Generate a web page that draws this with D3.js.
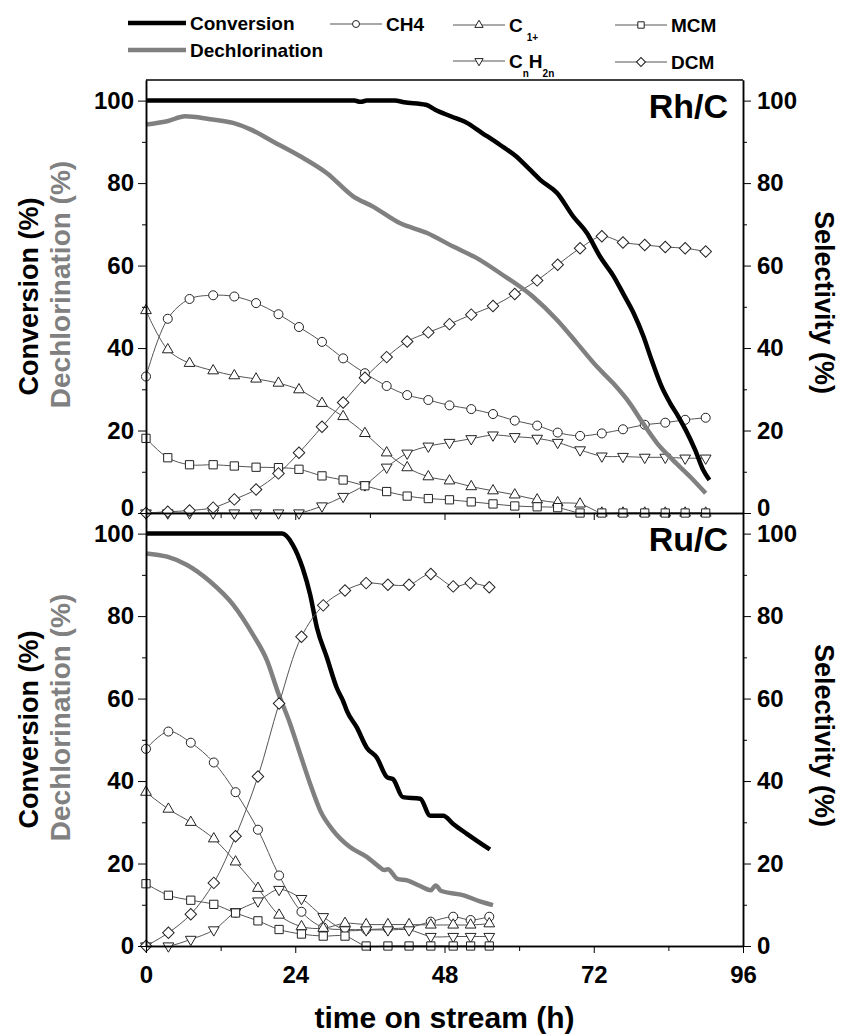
<!DOCTYPE html>
<html>
<head>
<meta charset="utf-8">
<script src="https://cdn.jsdelivr.net/npm/d3@7"></script>
<style>
  body { margin: 0; background: #fff; }
  text { font-family: "Liberation Sans", Arial, sans-serif; font-weight: bold; }
</style>
</head>
<body>
<svg id="chart" width="848" height="1036"></svg>
<script>
// ---- Rh/C panel ----
let rhTime = [0, 3.5, 7, 10.8, 14.2, 17.7, 21.3, 24.6, 28.3, 31.7, 35.2, 38.7, 42, 45.4, 48.8, 52.3, 55.8, 59.3, 62.9, 66.2, 69.8, 73.3, 76.7, 80.2, 83.5, 86.7, 90];
let rhCH4 = [33.1, 47.1, 51.9, 52.8, 52.5, 50.9, 48.2, 45.1, 41.5, 37.5, 33.9, 30.8, 28.6, 27.4, 26.1, 25.2, 24.0, 22.4, 21.2, 19.5, 18.7, 19.3, 20.3, 21.4, 21.9, 22.6, 23.1];
let rhC1 = [49.1, 39.6, 36.3, 34.5, 33.3, 32.5, 31.5, 29.9, 26.6, 23.4, 19.3, 14.6, 11.0, 8.8, 7.8, 6.4, 5.4, 4.4, 3.2, 2.5, 2.2, 0, 0, 0, 0, 0, 0];
let rhMCM = [18.1, 13.4, 11.7, 11.7, 11.4, 11.1, 11.0, 10.6, 9.0, 8.0, 6.6, 5.2, 4.1, 3.5, 3.2, 2.7, 2.2, 1.7, 1.5, 1.3, 0, 0, 0, 0, 0, 0, 0];
let rhCnH2n = [0, 0, 0, 0, 0, 0, 0, 0, 1.7, 4.0, 6.8, 11.1, 14.5, 16.2, 17.1, 18.0, 18.9, 18.5, 18.1, 17.1, 15.3, 13.8, 13.7, 13.5, 13.5, 13.3, 13.3];
let rhDCM = [0, 0.3, 0.6, 1.3, 3.3, 5.7, 9.6, 14.6, 20.9, 26.8, 32.8, 37.8, 41.6, 43.8, 45.8, 48.1, 50.2, 53.1, 56.4, 60.2, 64.2, 67.1, 65.6, 65.0, 64.5, 64.2, 63.4];

let rhConvTime = [0, 20, 33.5, 34.5, 35.5, 40, 41.5, 45, 46.5, 49, 51.6, 54, 56.9, 59.5, 61.7, 63.4, 66.1, 68.7, 70.9, 73.0, 75.2, 76.8, 78.4, 80.0, 81.3, 82.9, 84.3, 85.6, 86.8, 88.3, 89.6, 90.6];
let rhConv = [100, 100, 100, 99.7, 100, 100, 99.6, 99.0, 97.8, 96.2, 94.6, 92.2, 89.3, 86.5, 83.3, 80.8, 77.6, 71.9, 67.9, 62.2, 57.4, 53.0, 48.5, 42.8, 37.1, 30.7, 26.6, 23.4, 20.1, 15.3, 10.4, 8.0];
let rhDechTime = [0, 3.4, 6.3, 10.3, 14.0, 16.7, 20.4, 24.8, 29.1, 33.3, 36.5, 40.8, 45.2, 49.4, 53.2, 56.9, 62.2, 66.1, 69.3, 72.5, 75.1, 77.8, 79.9, 82.2, 84.7, 87.5, 90.0];
let rhDech = [94.2, 95.0, 96.2, 95.5, 94.6, 93.1, 90.1, 86.5, 82.4, 76.8, 74.3, 70.3, 67.9, 64.6, 61.8, 58.2, 52.5, 46.8, 41.2, 35.5, 31.5, 26.6, 21.8, 16.9, 12.9, 8.8, 4.8];

// ---- Ru/C panel ----
let ruTime = [0, 3.6, 7.2, 10.9, 14.4, 18, 21.4, 25, 28.5, 32, 35.4, 38.9, 42.3, 45.8, 49.4, 52.2, 55.2];
let ruCH4 = [47.8, 52.0, 49.3, 44.5, 37.3, 28.2, 17.1, 8.3, 4.5, 4.0, 4.0, 4.2, 4.5, 5.9, 7.1, 6.3, 7.1];
let ruC1 = [37.3, 33.2, 30.0, 26.0, 20.4, 14.0, 7.5, 4.7, 4.3, 5.5, 5.2, 5.2, 5.2, 5.1, 5.1, 5.1, 5.4];
let ruMCM = [15.1, 12.3, 11.1, 10.1, 8.0, 6.1, 4.0, 2.9, 2.4, 2.4, 0, 0, 0, 0, 0, 0, 0];
let ruCnH2n = [0, 0, 1.6, 3.9, 8.3, 10.9, 13.7, 11.5, 7.1, 3.9, 3.9, 3.9, 3.9, 2.3, 2.3, 2.3, 2.3];
let ruDCM = [0, 3.2, 7.7, 15.3, 26.6, 41.1, 58.8, 75.0, 82.6, 86.2, 88.0, 87.6, 87.6, 90.2, 87.2, 88.0, 87.0];

let ruConvTime = [0, 21.9, 23.6, 25.2, 26.4, 27.5, 29.1, 30.7, 31.7, 32.3, 33.9, 35.5, 37.1, 38.8, 39.7, 41.3, 44.1, 45.7, 47.8, 49.4, 51.6, 55.3];
let ruConv = [100, 100, 97.3, 91.6, 85.2, 77.1, 69.9, 62.5, 59.4, 57.0, 53.0, 48.1, 45.7, 40.9, 40.5, 36.1, 35.7, 31.6, 31.6, 29.6, 27.2, 23.4];
let ruDechTime = [0, 3.4, 6.6, 10.3, 14.0, 17.2, 19.5, 21.2, 23.2, 24.8, 26.4, 28.0, 30.1, 32.8, 35.5, 37.5, 38.3, 38.9, 40.4, 42.0, 44.0, 45.8, 46.6, 47.4, 51.1, 53.7, 55.8];
let ruDech = [95.2, 94.4, 92.4, 88.4, 82.8, 75.5, 69.1, 61.6, 53.8, 46.5, 39.3, 32.9, 28.0, 24.0, 21.6, 19.2, 18.4, 18.6, 16.3, 15.9, 14.6, 13.5, 14.7, 13.4, 12.3, 10.8, 9.9];

// ---- axes ----
let xTicks = [0, 24, 48, 72, 96];
let xMinor = [12, 36, 60, 84];
let yTicks = [0, 20, 40, 60, 80, 100];
let yMinor = [10, 30, 50, 70, 90];

let seriesNames = ["CH4", "C1+", "CnH2n", "MCM", "DCM"];
let symbolOf = {
    "CH4": { type: d3.symbolCircle, size: 64, rot: 0 },
    "C1+": { type: d3.symbolTriangle, size: 50, rot: 0 },
    "CnH2n": { type: d3.symbolTriangle, size: 50, rot: 180 },
    "MCM": { type: d3.symbolSquare, size: 68, rot: 0 },
    "DCM": { type: d3.symbolSquare, size: 66, rot: 45 }
};

let panels = [
    { label: "Rh/C", top: 80, bottom: 513, time: rhTime,
      series: { "CH4": rhCH4, "C1+": rhC1, "CnH2n": rhCnH2n, "MCM": rhMCM, "DCM": rhDCM },
      conv: [rhConvTime, rhConv], dech: [rhDechTime, rhDech], linesOnTop: true, xLabels: false },
    { label: "Ru/C", top: 513, bottom: 946, time: ruTime,
      series: { "CH4": ruCH4, "C1+": ruC1, "CnH2n": ruCnH2n, "MCM": ruMCM, "DCM": ruDCM },
      conv: [ruConvTime, ruConv], dech: [ruDechTime, ruDech], linesOnTop: false, xLabels: true }
];

let svg = d3.select("#chart");
let left = 146, right = 743;
let x = d3.scaleLinear().domain([0, 96]).range([left, right]);

panels.forEach(function (p, pi) {
    let y = d3.scaleLinear().domain([0, 105]).range([p.bottom, p.top]);
    let g = svg.append("g");

    let thick = d3.line()
        .x(function (d) { return x(d[0]); })
        .y(function (d) { return y(d[1]); })
        .curve(d3.curveMonotoneX);

    function drawThick() {
        g.append("path")
            .attr("d", thick(d3.zip(p.dech[0], p.dech[1])))
            .attr("fill", "none").attr("stroke", "#808080")
            .attr("stroke-width", 4.5).attr("stroke-linejoin", "round");
        g.append("path")
            .attr("d", thick(d3.zip(p.conv[0], p.conv[1])))
            .attr("fill", "none").attr("stroke", "#000")
            .attr("stroke-width", 4.5).attr("stroke-linejoin", "round");
    }

    if (!p.linesOnTop) drawThick();

    let thin = d3.line()
        .x(function (d) { return x(d[0]); })
        .y(function (d) { return y(d[1]); })
        .curve(d3.curveCatmullRom.alpha(0.5));

    seriesNames.forEach(function (name) {
        let pts = d3.zip(p.time, p.series[name]);
        g.append("path")
            .attr("d", thin(pts))
            .attr("fill", "none")
            .attr("stroke", "#555")
            .attr("stroke-width", 1);
    });
    seriesNames.forEach(function (name) {
        let pts = d3.zip(p.time, p.series[name]);
        let s = symbolOf[name];
        g.selectAll(null).data(pts).enter().append("path")
            .attr("d", d3.symbol().type(s.type).size(s.size))
            .attr("transform", function (d) {
                return "translate(" + x(d[0]) + "," + y(d[1]) + ") rotate(" + s.rot + ")";
            })
            .attr("fill", "#fff")
            .attr("stroke", "#222")
            .attr("stroke-width", 1);
    });

    if (p.linesOnTop) drawThick();

    // left axis
    let la = svg.append("g").attr("transform", "translate(" + left + ",0)")
        .call(d3.axisLeft(y).tickValues(yTicks).tickSize(8).tickSizeOuter(0).tickPadding(4));
    svg.append("g").attr("transform", "translate(" + left + ",0)")
        .call(d3.axisLeft(y).tickValues(yMinor).tickSize(4).tickSizeOuter(0).tickFormat(""));
    // right axis
    let ra = svg.append("g").attr("transform", "translate(" + right + ",0)")
        .call(d3.axisRight(y).tickValues(yTicks).tickSize(8).tickSizeOuter(0).tickPadding(6));
    svg.append("g").attr("transform", "translate(" + right + ",0)")
        .call(d3.axisRight(y).tickValues(yMinor).tickSize(4).tickSizeOuter(0).tickFormat(""));
    [la, ra].forEach(function (a) {
        a.selectAll("text").style("font-size", "24px").style("font-weight", "bold").attr("fill", "#000");
        // the top panel's "0" sits just above the lower panel's "100"
        if (pi === 0) {
            a.selectAll(".tick").filter(function (d) { return d === 0; })
                .select("text").attr("dy", "0.1em");
        }
    });

    // bottom axis of the panel
    let xa = svg.append("g").attr("transform", "translate(0," + p.bottom + ")")
        .call(d3.axisBottom(x).tickValues(xTicks).tickSize(7).tickSizeOuter(0).tickPadding(13)
            .tickFormat(p.xLabels ? d3.format("d") : ""));
    svg.append("g").attr("transform", "translate(0," + p.bottom + ")")
        .call(d3.axisBottom(x).tickValues(xMinor).tickSize(5).tickSizeOuter(0).tickFormat(""));
    xa.selectAll("text").style("font-size", "24px").style("font-weight", "bold").attr("fill", "#000");

    svg.selectAll(".domain").attr("stroke-width", 1.5);

    // panel label
    svg.append("text")
        .attr("x", 728)
        .attr("y", p.top + 38)
        .attr("text-anchor", "end")
        .style("font-size", "34px")
        .text(p.label);

    let mid = (p.top + p.bottom) / 2;
    svg.append("text")
        .attr("transform", "translate(38," + mid + ") rotate(-90)")
        .attr("text-anchor", "middle")
        .style("font-size", "27px")
        .text("Conversion (%)");
    svg.append("text")
        .attr("transform", "translate(70," + (mid - 12) + ") rotate(-90)")
        .attr("text-anchor", "middle")
        .attr("fill", "#808080")
        .style("font-size", "28px")
        .text("Dechlorination (%)");
    svg.append("text")
        .attr("transform", "translate(815," + (mid + 6) + ") rotate(90)")
        .attr("text-anchor", "middle")
        .style("font-size", "27px")
        .text("Selectivity (%)");
});

// top frame line
svg.append("line")
    .attr("x1", left).attr("x2", right)
    .attr("y1", 80).attr("y2", 80)
    .attr("stroke", "#000").attr("stroke-width", 1.5);

svg.append("text")
    .attr("x", (left + right) / 2)
    .attr("y", 1028)
    .attr("text-anchor", "middle")
    .style("font-size", "30px")
    .text("time on stream (h)");

// ---- legend ----
let leg = svg.append("g");
leg.append("line").attr("x1", 128).attr("x2", 186).attr("y1", 23).attr("y2", 23)
    .attr("stroke", "#000").attr("stroke-width", 4.5);
leg.append("text").attr("x", 190).attr("y", 30).style("font-size", "19px").text("Conversion");
leg.append("line").attr("x1", 128).attr("x2", 186).attr("y1", 50).attr("y2", 50)
    .attr("stroke", "#808080").attr("stroke-width", 4.5);
leg.append("text").attr("x", 190).attr("y", 57).style("font-size", "19px").text("Dechlorination");

let legendItems = [
    { name: "CH4", x0: 330, y: 24 },
    { name: "C1+", x0: 453, y: 25 },
    { name: "MCM", x0: 615, y: 25 },
    { name: "CnH2n", x0: 453, y: 61 },
    { name: "DCM", x0: 615, y: 62 }
];
legendItems.forEach(function (it) {
    let s = symbolOf[it.name];
    leg.append("line").attr("x1", it.x0).attr("x2", it.x0 + 52).attr("y1", it.y).attr("y2", it.y)
        .attr("stroke", "#555").attr("stroke-width", 1);
    leg.append("path")
        .attr("d", d3.symbol().type(s.type).size(s.size * 0.6))
        .attr("transform", "translate(" + (it.x0 + 26) + "," + it.y + ") rotate(" + s.rot + ")")
        .attr("fill", "#fff").attr("stroke", "#222");
    let t = leg.append("text").attr("x", it.x0 + 56).attr("y", it.y + 7).style("font-size", "19px");
    if (it.name === "C1+") {
        t.append("tspan").text("C");
        t.append("tspan").attr("dx", 4).attr("dy", 9).style("font-size", "10px").text("1+");
    } else if (it.name === "CnH2n") {
        t.append("tspan").text("C");
        t.append("tspan").attr("dy", 9).style("font-size", "10px").text("n");
        t.append("tspan").attr("dy", -9).text("H");
        t.append("tspan").attr("dy", 9).style("font-size", "10px").text("2n");
    } else {
        t.text(it.name);
    }
});
</script>
</body>
</html>
